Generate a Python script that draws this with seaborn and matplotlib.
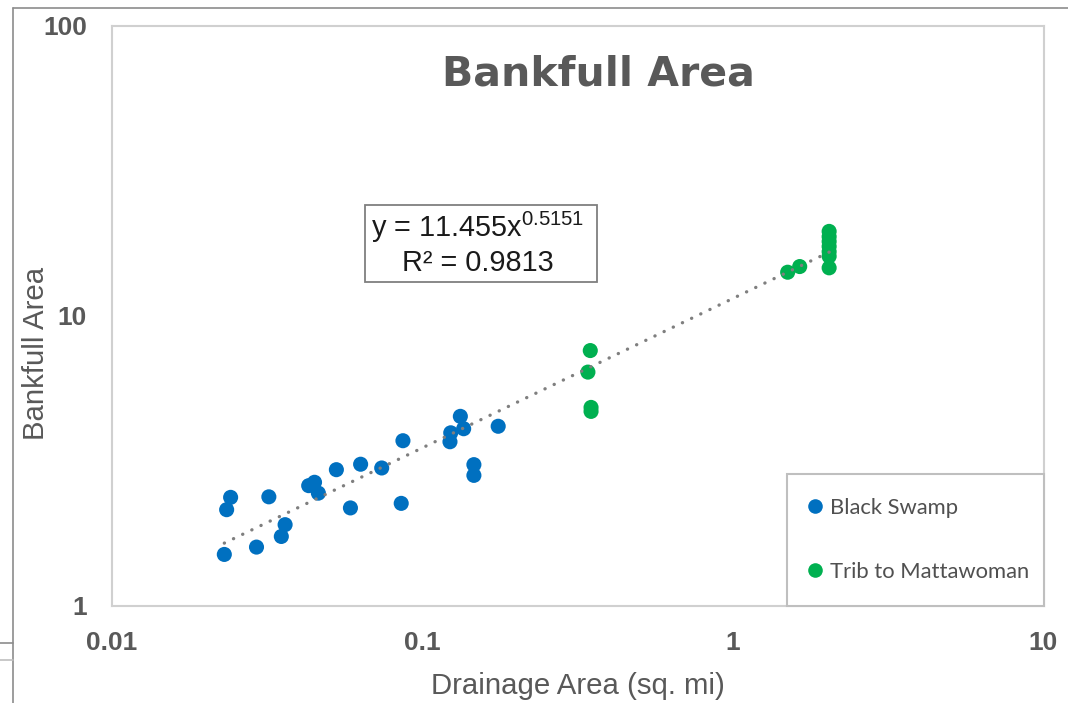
import numpy as np
import pandas as pd
import matplotlib
matplotlib.use("Agg")
import matplotlib.pyplot as plt
from matplotlib.lines import Line2D
from matplotlib.patches import Rectangle
import seaborn as sns

# ---- data ----
black_swamp_x = [0.0230, 0.0234, 0.0241, 0.0292, 0.0320, 0.0351, 0.0361, 0.0430,
                 0.0449, 0.0462, 0.0528, 0.0586, 0.0632, 0.0739, 0.0854, 0.0865,
                 0.1226, 0.1233, 0.1324, 0.1357, 0.1464, 0.1464, 0.1753]
black_swamp_y = [1.50, 2.14, 2.36, 1.59, 2.37, 1.73, 1.90, 2.59,
                 2.66, 2.44, 2.94, 2.17, 3.07, 2.98, 2.25, 3.70,
                 3.67, 3.94, 4.49, 4.07, 3.06, 2.81, 4.15]
trib_x = [0.347, 0.341, 0.349, 0.349, 1.50, 1.64,
          2.04, 2.04, 2.04, 2.04, 2.04, 2.04, 2.04]
trib_y = [7.57, 6.38, 4.82, 4.67, 14.1, 14.75,
          19.5, 18.7, 18.0, 17.3, 16.6, 16.0, 14.6]
series_names = ["Black Swamp", "Trib to Mattawoman"]
series_colors = ["#0070C0", "#00B050"]
fit_coef = 11.455
fit_exp = 0.5151
fit_r2 = 0.9813
x_ticks = [0.01, 0.1, 1, 10]
x_tick_labels = ["0.01", "0.1", "1", "10"]
y_ticks = [1, 10, 100]
y_tick_labels = ["1", "10", "100"]
title = "Bankfull Area"
x_label = "Drainage Area (sq. mi)"
y_label = "Bankfull Area"

df = pd.DataFrame({
    "x": black_swamp_x + trib_x,
    "y": black_swamp_y + trib_y,
    "series": [series_names[0]] * len(black_swamp_x) + [series_names[1]] * len(trib_x),
})

sns.set_theme(style="white")
plt.rcParams["font.family"] = ["Liberation Sans", "DejaVu Sans"]
plt.rcParams["mathtext.fontset"] = "custom"
plt.rcParams["mathtext.rm"] = "Liberation Sans"
plt.rcParams["mathtext.it"] = "Liberation Sans"

W, H = 1068, 703
fig = plt.figure(figsize=(W / 100, H / 100), dpi=100)
fig.patch.set_facecolor("white")

def fx(px):
    return px / W

def fy(py):
    return 1 - py / H

left, right, top, bottom = 112, 1043.5, 25.5, 605.5
ax = fig.add_axes([fx(left), fy(bottom), fx(right - left), (bottom - top) / H])

sns.scatterplot(data=df, x="x", y="y", hue="series", hue_order=series_names,
                palette=dict(zip(series_names, series_colors)), s=118,
                edgecolor="none", linewidth=0, legend=False, ax=ax, zorder=3)

# power trendline as stated in the chart
xs = np.geomspace(min(df["x"]), max(df["x"]), 200)
ax.plot(xs, fit_coef * xs ** fit_exp, color="#7F7F7F", lw=2.4,
        linestyle=(0, (0.05, 3.0)), dash_capstyle="round", zorder=4)

ax.set_xscale("log")
ax.set_yscale("log")
ax.set_xlim(0.01, 10)
ax.set_ylim(1, 100)
ax.set_xticks(x_ticks)
ax.set_xticklabels(x_tick_labels)
ax.set_yticks(y_ticks)
ax.set_yticklabels(y_tick_labels)
ax.minorticks_off()
ax.tick_params(axis="both", length=0, pad=18, labelsize=19, labelcolor="#595959")
for lab in ax.get_xticklabels() + ax.get_yticklabels():
    lab.set_fontweight("bold")
ax.set_xlabel("")
ax.set_ylabel("")
for sp in ax.spines.values():
    sp.set_color("#D0D0D0")
    sp.set_linewidth(1.5)
    sp.set_visible(True)

# title and axis labels
fig.text(fx(598), fy(86), title, ha="center", va="baseline", fontsize=29.5,
         fontweight="bold", family="DejaVu Sans", color="#595959")
fig.text(fx(578), fy(686), x_label, ha="center", va="center", fontsize=21.2,
         color="#595959")
fig.text(fx(36), fy(353), y_label, ha="center", va="center", rotation=90,
         fontsize=21.2, color="#595959")

# equation box
fig.add_artist(Rectangle((fx(365), fy(282)), fx(597 - 365), (282 - 205) / H,
                         transform=fig.transFigure, facecolor="white",
                         edgecolor="#7F7F7F", linewidth=1.3, zorder=5))
eq_text = "y = " + f"{fit_coef:.3f}" + "x$^{" + f"{fit_exp:.4f}" + "}$"
fig.text(fx(478), fy(227), eq_text, ha="center", va="center", fontsize=20.8,
         color="#1a1a1a", zorder=6)
fig.text(fx(478), fy(263), f"R² = {fit_r2:.4f}", ha="center", va="center",
         fontsize=20.8, color="#1a1a1a", zorder=6)

# legend (frame drawn separately, inside the axes so the legend sits on top)
ax.add_patch(Rectangle((fx(787), fy(606)), fx(1043.5 - 787), (606 - 474) / H,
                       transform=fig.transFigure, facecolor="white",
                       edgecolor="#BFBFBF", linewidth=1.5, zorder=5, clip_on=False))
handles = [Line2D([0], [0], marker="o", linestyle="none", markersize=10.5,
                  markerfacecolor=c, markeredgecolor="none") for c in series_colors]
leg = ax.legend(handles, series_names, loc="center left",
                bbox_to_anchor=(fx(806.5), fy(539.7)), bbox_transform=fig.transFigure,
                borderaxespad=0, borderpad=0, frameon=False,
                prop={"family": ["Lato", "DejaVu Sans"], "size": 15.8},
                labelcolor="#505050", handlelength=0.8,
                handletextpad=0.25, labelspacing=1.99)
leg.set_zorder(6)

# outer chart border fragments
line_kw = dict(transform=fig.transFigure, color="#8C8C8C", lw=1.2)
fig.add_artist(Line2D([fx(13), 1], [fy(7.5), fy(7.5)], **line_kw))
fig.add_artist(Line2D([fx(13), fx(13)], [fy(7.5), 0], **line_kw))
fig.add_artist(Line2D([0, fx(13)], [fy(643), fy(643)], **line_kw))
fig.add_artist(Line2D([0, fx(13)], [fy(660), fy(660)], color="#BFBFBF", lw=1.2,
                      transform=fig.transFigure))

fig.savefig("out.png", dpi=100)
